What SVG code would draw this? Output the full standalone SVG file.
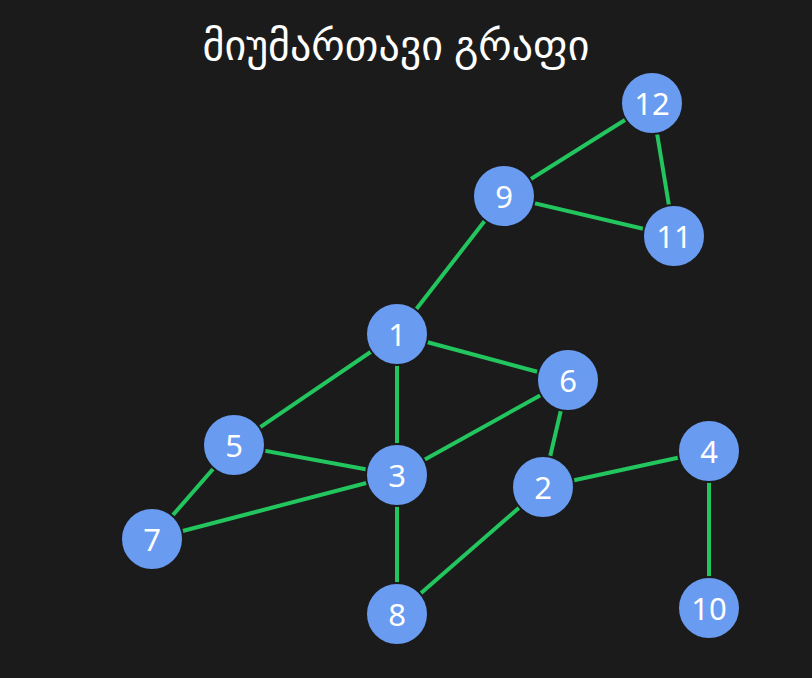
<svg xmlns="http://www.w3.org/2000/svg" width="812" height="678" viewBox="0 0 812 678">
<style>
.e{stroke:#22c55e;stroke-width:4;fill:none}
.n circle{fill:#699bf0;stroke:#1b1b1b;stroke-width:2}
.n text{fill:#fff;font-family:"Noto Sans","DejaVu Sans",sans-serif;font-size:31px;text-anchor:middle;dominant-baseline:central}
.t{fill:#fff;font-family:"Noto Sans","DejaVu Sans",sans-serif;font-size:42px;text-anchor:middle}
</style>
<rect width="812" height="678" fill="#1b1b1b"/>
<text class="t" x="396" y="60">მიუმართავი გრაფი</text>
<g id="edges">
<line class="e" x1="652" y1="103" x2="504" y2="196"/>
<line class="e" x1="652" y1="103" x2="674" y2="236"/>
<line class="e" x1="504" y1="196" x2="674" y2="236"/>
<line class="e" x1="504" y1="196" x2="397" y2="334"/>
<line class="e" x1="397" y1="334" x2="568" y2="380"/>
<line class="e" x1="397" y1="334" x2="234" y2="445"/>
<line class="e" x1="397" y1="334" x2="397" y2="475"/>
<line class="e" x1="234" y1="445" x2="397" y2="475"/>
<line class="e" x1="234" y1="445" x2="152" y2="539"/>
<line class="e" x1="397" y1="475" x2="568" y2="380"/>
<line class="e" x1="397" y1="475" x2="152" y2="539"/>
<line class="e" x1="397" y1="475" x2="397" y2="614"/>
<line class="e" x1="568" y1="380" x2="543" y2="487"/>
<line class="e" x1="543" y1="487" x2="709" y2="451"/>
<line class="e" x1="543" y1="487" x2="397" y2="614"/>
<line class="e" x1="709" y1="451" x2="709" y2="608"/>
</g>
<g id="n1" class="n"><circle cx="397" cy="334" r="31"/><text x="397" y="334">1</text></g>
<g id="n2" class="n"><circle cx="543" cy="487" r="31"/><text x="543" y="487">2</text></g>
<g id="n3" class="n"><circle cx="397" cy="475" r="31"/><text x="397" y="475">3</text></g>
<g id="n4" class="n"><circle cx="709" cy="451" r="31"/><text x="709" y="451">4</text></g>
<g id="n5" class="n"><circle cx="234" cy="445" r="31"/><text x="234" y="445">5</text></g>
<g id="n6" class="n"><circle cx="568" cy="380" r="31"/><text x="568" y="380">6</text></g>
<g id="n7" class="n"><circle cx="152" cy="539" r="31"/><text x="152" y="539">7</text></g>
<g id="n8" class="n"><circle cx="397" cy="614" r="31"/><text x="397" y="614">8</text></g>
<g id="n9" class="n"><circle cx="504" cy="196" r="31"/><text x="504" y="196">9</text></g>
<g id="n10" class="n"><circle cx="709" cy="608" r="31"/><text x="709" y="608">10</text></g>
<g id="n11" class="n"><circle cx="674" cy="236" r="31"/><text x="674" y="236">11</text></g>
<g id="n12" class="n"><circle cx="652" cy="103" r="31"/><text x="652" y="103">12</text></g>
</svg>
